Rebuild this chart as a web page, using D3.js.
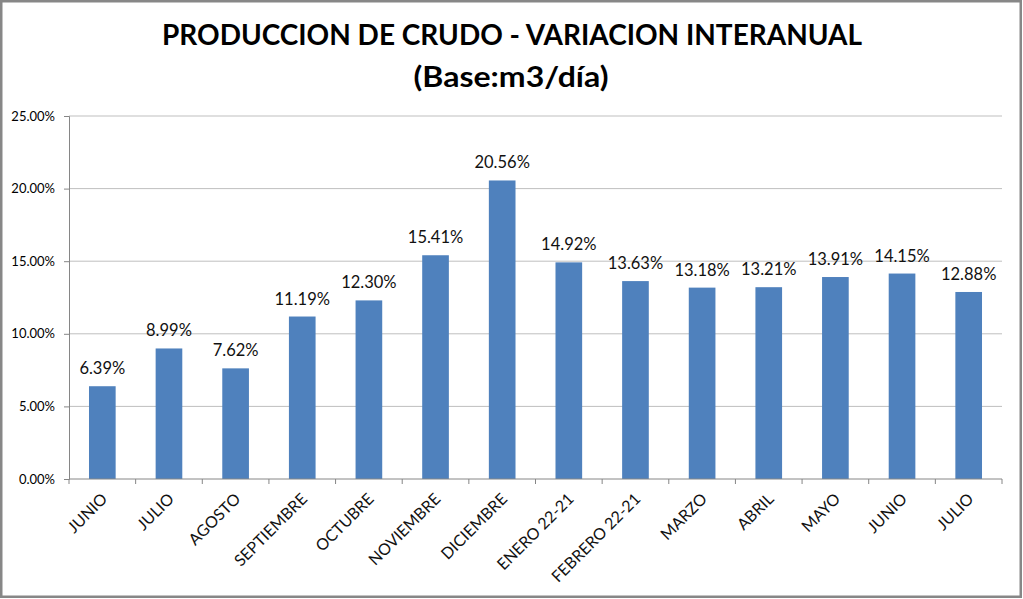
<!DOCTYPE html>
<html>
<head>
<meta charset="utf-8">
<script src="https://cdn.jsdelivr.net/npm/d3@7"></script>
<style>
  html, body { margin: 0; padding: 0; background: #fff; }
  svg { display: block; }
  text { font-family: Lato, "Open Sans", sans-serif; }
</style>
</head>
<body>
<script>
const categories = ["JUNIO", "JULIO", "AGOSTO", "SEPTIEMBRE", "OCTUBRE", "NOVIEMBRE", "DICIEMBRE",
  "ENERO 22-21", "FEBRERO 22-21", "MARZO", "ABRIL", "MAYO", "JUNIO", "JULIO"];
const values = [6.39, 8.99, 7.62, 11.19, 12.30, 15.41, 20.56, 14.92, 13.63, 13.18, 13.21, 13.91, 14.15, 12.88];
const yTicks = [0, 5, 10, 15, 20, 25];
const titleLines = ["PRODUCCION DE CRUDO - VARIACION INTERANUAL", "(Base:m3/día)"];

const W = 1023, H = 599;
const margin = { left: 69, right: 21, top: 116, bottom: 120 };
const plotW = W - margin.left - margin.right;
const plotH = H - margin.top - margin.bottom;

const svg = d3.select("body").append("svg").attr("width", W).attr("height", H);

// outer frame
svg.append("rect").attr("x", 1.25).attr("y", 1.25).attr("width", W - 3.5).attr("height", H - 3.5)
  .attr("fill", "#fff").attr("stroke", "#878787").attr("stroke-width", 2.5);

// title
svg.append("text").attr("x", 512).attr("y", 45).attr("text-anchor", "middle")
  .attr("font-size", 29).attr("font-weight", "bold").attr("fill", "#000")
  .attr("textLength", 700).attr("lengthAdjust", "spacingAndGlyphs")
  .text(titleLines[0]);
svg.append("text").attr("x", 511).attr("y", 87).attr("text-anchor", "middle")
  .attr("font-size", 29).attr("font-weight", "bold").attr("fill", "#000")
  .attr("textLength", 195).attr("lengthAdjust", "spacingAndGlyphs")
  .text(titleLines[1]);

const g = svg.append("g").attr("transform", `translate(${margin.left},${margin.top})`);

const x = d3.scaleBand().domain(d3.range(categories.length)).range([0, plotW]).paddingInner(0.6).paddingOuter(0.3);
const y = d3.scaleLinear().domain([0, 25]).range([plotH, 0]);

// gridlines
g.append("g").selectAll("line").data(yTicks.filter(d => d > 0)).join("line")
  .attr("x1", 0).attr("x2", plotW).attr("y1", d => y(d)).attr("y2", d => y(d))
  .attr("stroke", "#bfbfbf").attr("stroke-width", 1);

// y axis
const yAxis = g.append("g").call(d3.axisLeft(y).tickValues(yTicks).tickFormat(d => d.toFixed(2) + "%").tickSize(5).tickPadding(9));
yAxis.select(".domain").attr("stroke", "#868686");
yAxis.selectAll(".tick line").attr("stroke", "#868686");
yAxis.selectAll(".tick text").attr("font-size", 13).attr("fill", "#000").attr("font-family", "Lato, sans-serif");

// bars
g.append("g").selectAll("rect").data(values).join("rect")
  .attr("x", (d, i) => x(i)).attr("width", x.bandwidth())
  .attr("y", d => y(d)).attr("height", d => plotH - y(d))
  .attr("fill", "#4f81bd");

// data labels
g.append("g").selectAll("text").data(values).join("text")
  .attr("x", (d, i) => x(i) + x.bandwidth() / 2).attr("y", d => y(d) - 12)
  .attr("text-anchor", "middle").attr("font-size", 16.5).attr("fill", "#111")
  .text(d => d.toFixed(2) + "%");

// x axis
const step = plotW / categories.length;
const xAxisG = g.append("g").attr("transform", `translate(0,${plotH})`);
xAxisG.append("line").attr("x1", 0).attr("x2", plotW).attr("stroke", "#868686");
xAxisG.selectAll("line.tk").data(d3.range(categories.length + 1)).join("line").attr("class", "tk")
  .attr("x1", i => i * step).attr("x2", i => i * step).attr("y1", 0).attr("y2", 5).attr("stroke", "#868686");
xAxisG.selectAll("text").data(categories).join("text")
  .attr("transform", (d, i) => `translate(${x(i) + x.bandwidth() / 2 + 6},${21}) rotate(-45)`)
  .attr("text-anchor", "end").attr("font-size", 16).attr("fill", "#111")
  .text(d => d);
</script>
</body>
</html>
